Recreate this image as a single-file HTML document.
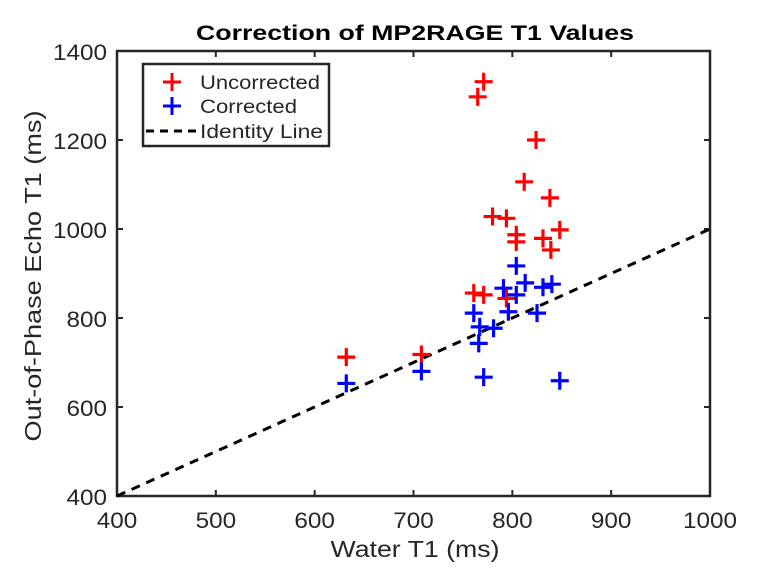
<!DOCTYPE html>
<html><head><meta charset="utf-8"><style>
body{margin:0;background:#fff;}
svg text{font-family:"Liberation Sans","DejaVu Sans",sans-serif;fill:#262626;}
</style></head><body>
<svg width="768" height="576" viewBox="0 0 768 576">
<text x="415" y="40" text-anchor="middle" font-size="21" font-weight="bold" textLength="438" lengthAdjust="spacingAndGlyphs" style="fill:#000">Correction of MP2RAGE T1 Values</text>
<g id="axes"></g>
<g id="marks"></g>
<g id="legend">
<rect x="143" y="64" width="186" height="82" fill="#fff" stroke="#262626" stroke-width="2.5"/>
<g><path d="M163 82h18M172 73v18" stroke="#f00" stroke-width="3"/><text x="200" y="89" font-size="19" textLength="120" lengthAdjust="spacingAndGlyphs">Uncorrected</text></g>
<g><path d="M163 106h18M172 97v18" stroke="#00f" stroke-width="3"/><text x="200" y="113" font-size="19" textLength="97" lengthAdjust="spacingAndGlyphs">Corrected</text></g>
<g><line x1="146" y1="131" x2="197" y2="131" stroke="#000" stroke-width="3" stroke-dasharray="8,6"/><text x="200" y="138" font-size="19" textLength="123" lengthAdjust="spacingAndGlyphs">Identity Line</text></g>
</g>
<text x="415" y="557" text-anchor="middle" font-size="23" textLength="169" lengthAdjust="spacingAndGlyphs">Water T1 (ms)</text>
<text transform="translate(41,276) rotate(-90)" text-anchor="middle" font-size="23" textLength="331" lengthAdjust="spacingAndGlyphs">Out-of-Phase Echo T1 (ms)</text>
</svg>
<script>
const xTicks=[400,500,600,700,800,900,1000];
const yTicks=[400,600,800,1000,1200,1400];
const uncorrX=[771,765,824,812,838,780,794,804,804,831,848,839,761,771,794,632,708];
const uncorrY=[1331,1297,1200,1106,1070,1028,1024,987,971,979,998,953,856,852,844,712,718];
const corrX=[804,813,791,804,831,840,796,825,761,767,781,766,771,848,632,708];
const corrY=[917,879,867,852,869,876,814,811,811,780,777,743,667,659,653,680];
const identity=[400,1000];
const L=117,R=710,T=51,B=496;
const sx=v=>L+(v-400)/600*(R-L);
const sy=v=>B-(v-400)/1000*(B-T);
const NS='http://www.w3.org/2000/svg';
function mk(tag,attrs,parent){const e=document.createElementNS(NS,tag);for(const k in attrs)e.setAttribute(k,attrs[k]);parent.appendChild(e);return e;}
const axes=document.getElementById('axes'),marks=document.getElementById('marks');
const idl=mk('line',{x1:sx(identity[0]),y1:sy(identity[0]),x2:sx(identity[1]),y2:sy(identity[1]),stroke:'#000','stroke-width':3,'stroke-dasharray':'9,7'},marks);


function plus(x,y,c,name){const p=mk('path',{d:`M${sx(x)-9} ${sy(y)}h18M${sx(x)} ${sy(y)-9}v18`,stroke:c,'stroke-width':3.2,fill:'none'},marks);

}
uncorrX.forEach((x,i)=>plus(x,uncorrY[i],'#f00','uncorrected-point'));
corrX.forEach((x,i)=>plus(x,corrY[i],'#00f','corrected-point'));
const box=mk('rect',{x:L,y:T,width:R-L,height:B-T,fill:'none',stroke:'#262626','stroke-width':2.5},axes);


xTicks.forEach(v=>{const x=sx(v);
mk('line',{x1:x,y1:B,x2:x,y2:B-6,stroke:'#262626','stroke-width':2},axes);
mk('line',{x1:x,y1:T,x2:x,y2:T+6,stroke:'#262626','stroke-width':2},axes);
const t=mk('text',{x:x,y:B+32,'text-anchor':'middle','font-size':22,textLength:String(v).length*13.5,lengthAdjust:'spacingAndGlyphs'},axes);t.textContent=v;

});
yTicks.forEach(v=>{const y=sy(v);
mk('line',{x1:L,y1:y,x2:L+6,y2:y,stroke:'#262626','stroke-width':2},axes);
mk('line',{x1:R,y1:y,x2:R-6,y2:y,stroke:'#262626','stroke-width':2},axes);
const t=mk('text',{x:L-10,y:y+9,'text-anchor':'end','font-size':22,textLength:String(v).length*13.5,lengthAdjust:'spacingAndGlyphs'},axes);t.textContent=v;

});
</script>
</body></html>
